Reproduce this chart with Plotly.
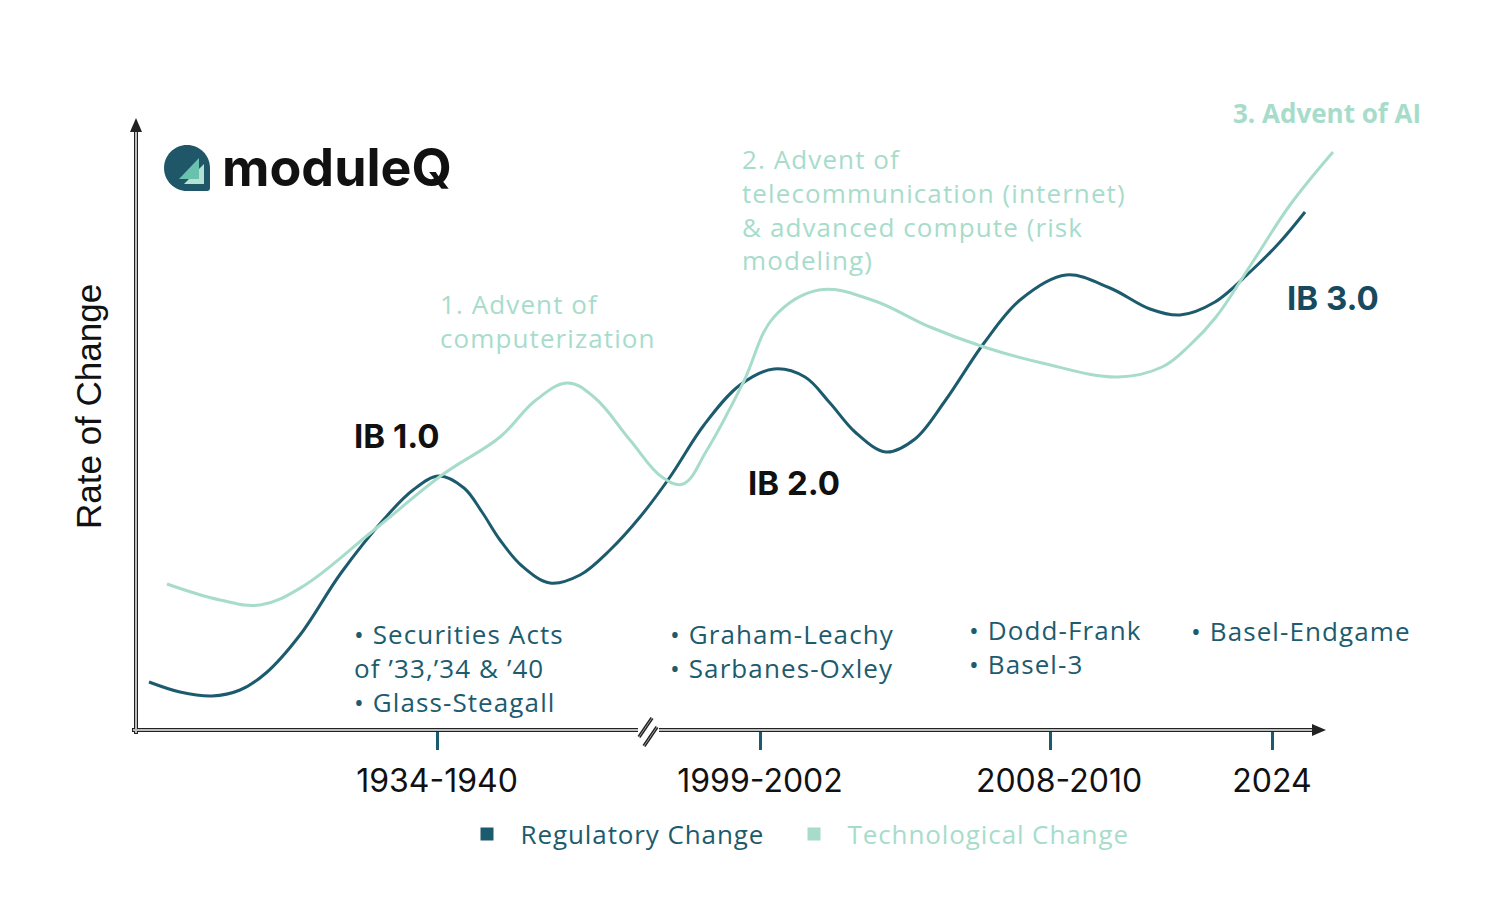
import plotly.graph_objects as go

# ---------------- data (axis units: x along timeline, y = rate of change) ----------------
reg_x = [14, 45, 77, 105, 131, 165, 206, 250, 278, 304, 329, 347, 365, 387, 415, 445, 475, 505,
         535, 569, 605, 639, 670, 695, 720, 751, 780, 810, 849, 885, 931, 975, 1015, 1045, 1080,
         1115, 1145, 1170]
reg_y = [48, 38, 34, 40, 57, 95, 157, 212, 240, 254, 242, 218, 190, 164, 147, 155, 180, 213,
         253, 305, 345, 361, 353, 327, 298, 278, 291, 329, 387, 430, 455, 442, 421, 415, 428,
         458, 488, 518]

tech_x = [32, 85, 125, 167, 239, 307, 365, 401, 433, 460, 495, 527, 548, 572, 608, 639, 684, 737,
          795, 849, 907, 983, 1027, 1055, 1081, 1117, 1155, 1198]
tech_y = [146, 130, 125, 143, 200, 255, 293, 330, 347, 332, 290, 253, 246, 280, 347, 413, 440, 430,
          403, 383, 367, 353, 363, 385, 413, 467, 525, 578]

tick_vals = [302, 625, 915, 1137]
tick_text = ["1934-1940", "1999-2002", "\u00a0\u00a02008-2010", "2024"]

series_names = ["Regulatory Change", "Technological Change"]

DARK = "#1c5b6d"
LIGHT = "#a7dccb"
TEXT_TEAL = "#1d5b6e"

# ---------------- layout geometry (screen pixels) ----------------
W_FIG, H_FIG = 1512, 906
OFF = 8  # page body margin
L, R_EDGE, T, B = 135, 1340, 110, 730
PW, PH = R_EDGE - L, B - T
ML, MT = L - OFF, T - OFF
MR, MB = W_FIG - ML - PW, H_FIG - MT - PH


def pp(px, py):
    return (px - L) / PW, (B - py) / PH


def P(a, b):
    x, y = pp(a, b)
    return f"{x:.5f},{y:.5f}"


def path(points):
    s = ""
    for i, (a, b) in enumerate(points):
        s += ("M" if i == 0 else "L") + P(a, b) + " "
    return s + "Z"


def spaced(s, ls=1.1, color=None):
    style = f"letter-spacing:{ls}px"
    if color:
        style = f"color:{color};" + style
    return "<br>".join(f"<span style='{style}'>{line}</span>" for line in s.split("<br>"))


fig = go.Figure()

fig.add_trace(go.Scatter(x=reg_x, y=reg_y, mode="lines",
                         line=dict(color=DARK, width=3, shape="spline", smoothing=1.0),
                         showlegend=False, hoverinfo="skip"))
fig.add_trace(go.Scatter(x=tech_x, y=tech_y, mode="lines",
                         line=dict(color=LIGHT, width=3, shape="spline", smoothing=1.1),
                         showlegend=False, hoverinfo="skip"))

NB = "\u00a0\u00a0"
for name, col, lg in zip(series_names, [DARK, LIGHT], ["legend", "legend2"]):
    fig.add_trace(go.Scatter(x=[None], y=[None], mode="markers",
                             marker=dict(symbol="square", size=13, color=col),
                             name=NB + spaced(name, 0.9, col), legend=lg))

shapes = []


def seg(p1, p2, color, width):
    x0, y0 = pp(*p1)
    x1, y1 = pp(*p2)
    shapes.append(dict(type="line", xref="paper", yref="paper", x0=x0, y0=y0, x1=x1, y1=y1,
                       line=dict(color=color, width=width), layer="above"))


# axes (double-line look)
for (p1, p2) in [((136, 734), (136, 131)), ((132, 730), (638, 730)), ((659, 730), (1314, 730))]:
    seg(p1, p2, "#222222", 4)
for (p1, p2) in [((136, 733), (136, 131)), ((133, 730), (638, 730)), ((659, 730), (1314, 730))]:
    seg(p1, p2, "#bdbdbd", 2)
# axis break slashes
for (p1, p2) in [((639, 737), (652, 718)), ((644, 746), (657, 727))]:
    seg(p1, p2, "#222222", 3.5)
    seg(p1, p2, "#9a9a9a", 1)

# arrowheads
shapes.append(dict(type="path", xref="paper", yref="paper", path=path([(136, 118), (130, 132), (142, 132)]),
                   fillcolor="#222222", line=dict(width=0), layer="above"))
shapes.append(dict(type="path", xref="paper", yref="paper", path=path([(1326, 730), (1312, 724), (1312, 736)]),
                   fillcolor="#222222", line=dict(width=0), layer="above"))

# logo icon
cx, cy, r = 187, 168, 23
k = 0.5523 * r
icon = (f"M{P(cx - r, cy)} C{P(cx - r, cy - k)} {P(cx - k, cy - r)} {P(cx, cy - r)} "
        f"C{P(cx + k, cy - r)} {P(cx + r, cy - k)} {P(cx + r, cy)} "
        f"L{P(cx + r, cy + r - 3)} Q{P(cx + r, cy + r)} {P(cx + r - 3, cy + r)} "
        f"L{P(cx, cy + r)} C{P(cx - k, cy + r)} {P(cx - r, cy + k)} {P(cx - r, cy)} Z")
shapes.append(dict(type="path", xref="paper", yref="paper", path=icon, fillcolor="#1f5668",
                   line=dict(width=0), layer="above"))
shapes.append(dict(type="path", xref="paper", yref="paper", path=path([(184, 184), (204, 184), (204, 164)]),
                   fillcolor="#b3e2d3", line=dict(width=0), layer="above"))
shapes.append(dict(type="path", xref="paper", yref="paper", path=path([(179, 179), (199, 179), (199, 158)]),
                   fillcolor="#68c2ae", line=dict(width=0), layer="above"))

ann = []


def text(px, py, s, size, color, family, xanchor="left", bold=False, angle=0):
    x, y = pp(px, py)
    if bold:
        s = f"<b>{s}</b>"
    ann.append(dict(x=x, y=y, xref="paper", yref="paper", text=s, showarrow=False, xanchor=xanchor,
                    yanchor="middle", align="left", textangle=angle,
                    font=dict(size=size, color=color, family=family)))


BODY = "Open Sans"
HEAD = "Inter"

text(220, 168, "moduleQ", 52, "#111111", HEAD, bold=True)
text(88, 407, "Rate of Change", 35, "#111111", "Liberation Sans", xanchor="center", angle=-90)

text(438, 321, spaced("1. Advent of<br>computerization"), 26, LIGHT, BODY)
text(740, 209, spaced("2. Advent of<br>telecommunication (internet)<br>&amp; advanced compute (risk<br>modeling)"),
     26, LIGHT, BODY)
text(1327, 113, "3. Advent of AI", 26, LIGHT, BODY, xanchor="center", bold=True)

text(352, 436, "IB 1.0", 33, "#111111", HEAD, bold=True)
text(746, 483, "IB 2.0", 33, "#111111", HEAD, bold=True)
text(1285, 298, "IB 3.0", 33, "#174a5e", HEAD, bold=True)

text(352, 668, spaced("• Securities Acts<br>of ’33,’34 &amp; ’40<br>• Glass-Steagall"), 26, TEXT_TEAL, BODY)
text(668, 651, spaced("• Graham-Leachy<br>• Sarbanes-Oxley"), 26, TEXT_TEAL, BODY)
text(967, 647, spaced("• Dodd-Frank<br>• Basel-3"), 26, TEXT_TEAL, BODY)
text(1189, 631, spaced("• Basel-Endgame"), 26, TEXT_TEAL, BODY)

l1x, l1y = pp(467, 834)
l2x, l2y = pp(794, 834)
leg_common = dict(orientation="h", xanchor="left", yanchor="middle",
                  font=dict(family=BODY, size=26), bgcolor="rgba(0,0,0,0)", itemwidth=30)

fig.update_layout(
    width=W_FIG, height=H_FIG,
    margin=dict(l=ML, r=MR, t=MT, b=MB, pad=0),
    paper_bgcolor="white", plot_bgcolor="white",
    xaxis=dict(range=[0, PW], showgrid=False, zeroline=False, showline=False,
               tickmode="array", tickvals=tick_vals, ticktext=tick_text,
               ticks="outside", ticklen=19, tickwidth=3, tickcolor=DARK,
               tickfont=dict(family=HEAD, size=32, color="#111111"), ticklabelstandoff=4,
               fixedrange=True),
    yaxis=dict(range=[0, PH], showgrid=False, zeroline=False, showline=False, showticklabels=False,
               ticks="", fixedrange=True),
    showlegend=True,
    legend=dict(x=l1x, y=l1y, **leg_common),
    legend2=dict(x=l2x, y=l2y, **leg_common),
    shapes=shapes,
    annotations=ann,
)

fig.write_html("out.html")
